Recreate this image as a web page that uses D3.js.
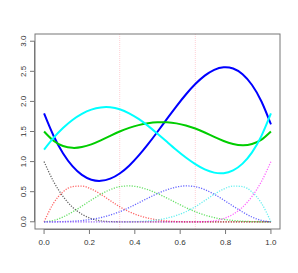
<!DOCTYPE html>
<html><head><meta charset="utf-8">
<script src="https://cdn.jsdelivr.net/npm/d3@7"></script>
<style>body{margin:0;background:#fff}svg{display:block}</style>
</head><body>
<script>
// x grid (k/24)
const xs = d3.range(25).map(k => k / 24);
// basis curves (dotted)
const basisBlack   = [1,0.670,0.422,0.244,0.125,0.053,0.016,0.002,0,0,0,0,0,0,0,0,0,0,0,0,0,0,0,0,0];
const basisRed     = [0,0.308,0.496,0.584,0.594,0.544,0.457,0.352,0.250,0.167,0.105,0.061,0.031,0.013,0.004,0.000,0,0,0,0,0,0,0,0,0];
const basisGreen   = [0,0.022,0.079,0.163,0.260,0.362,0.457,0.534,0.583,0.596,0.577,0.532,0.469,0.394,0.314,0.236,0.167,0.112,0.070,0.041,0.021,0.009,0.003,0.000,0];
const basisBlue    = [0,0.000,0.003,0.009,0.021,0.041,0.070,0.112,0.167,0.236,0.314,0.394,0.469,0.532,0.577,0.596,0.583,0.534,0.457,0.362,0.260,0.163,0.079,0.022,0];
const basisCyan    = [0,0,0,0,0,0,0,0,0,0.000,0.004,0.013,0.031,0.061,0.105,0.167,0.250,0.352,0.457,0.544,0.594,0.584,0.496,0.308,0];
const basisMagenta = [0,0,0,0,0,0,0,0,0,0,0,0,0,0,0,0,0,0.002,0.016,0.053,0.125,0.244,0.422,0.670,1];
// solid curves
const curveBlue  = [1.8,1.429,1.139,0.924,0.779,0.699,0.680,0.716,0.802,0.932,1.098,1.289,1.496,1.710,1.919,2.115,2.288,2.428,2.525,2.568,2.547,2.452,2.273,1.999,1.62];
const curveGreen = [1.5,1.346,1.260,1.228,1.241,1.286,1.352,1.427,1.500,1.560,1.606,1.637,1.653,1.652,1.635,1.601,1.550,1.483,1.410,1.343,1.293,1.271,1.291,1.364,1.5];
const curveCyan  = [1.2,1.394,1.558,1.692,1.794,1.864,1.900,1.902,1.870,1.803,1.709,1.593,1.463,1.328,1.193,1.067,0.957,0.870,0.817,0.808,0.855,0.966,1.154,1.428,1.8];
const knots = [1/3, 2/3];
const xTicks = [0, 0.2, 0.4, 0.6, 0.8, 1.0];
const yTicks = [0, 0.5, 1.0, 1.5, 2.0, 2.5, 3.0];

const W = 298, H = 273;
const L = 35, R = 280, T = 34, B = 229;
const svg = d3.select("body").append("svg").attr("width", W).attr("height", H);
const x = d3.scaleLinear().domain([-0.04, 1.04]).range([L, R]);
const y = d3.scaleLinear().domain([-0.12, 3.12]).range([B, T]);

// knot lines
svg.selectAll("line.knot").data(knots).enter().append("line")
  .attr("x1", d => x(d)).attr("x2", d => x(d)).attr("y1", T).attr("y2", B)
  .attr("stroke", "#ffd0d6").attr("stroke-width", 1).attr("stroke-dasharray", "1,1");

const dotted = [
  [basisBlack, "#000000"], [basisRed, "#ff0000"], [basisGreen, "#00cd00"],
  [basisBlue, "#0000ff"], [basisCyan, "#00e5e5"], [basisMagenta, "#ff00ff"]
];
const lineM = d3.line().curve(d3.curveMonotoneX);
dotted.forEach(([vals, col]) => {
  svg.append("path")
    .attr("d", lineM(vals.map((v, i) => [x(xs[i]), y(v)])))
    .attr("fill", "none").attr("stroke", col).attr("stroke-width", 1.3)
    .attr("stroke-dasharray", "1.2,1.4").attr("opacity", 0.6);
});

const lineN = d3.line().curve(d3.curveNatural);
[[curveBlue, "#0000ff"], [curveGreen, "#00cd00"], [curveCyan, "#00ffff"]].forEach(([vals, col]) => {
  svg.append("path")
    .attr("d", lineN(vals.map((v, i) => [x(xs[i]), y(v)])))
    .attr("fill", "none").attr("stroke", col).attr("stroke-width", 2);
});

// box
svg.append("rect").attr("x", L).attr("y", T).attr("width", R - L).attr("height", B - T)
  .attr("fill", "none").attr("stroke", "#777").attr("stroke-width", 1);

// axes (R style)
const ax = svg.append("g").attr("stroke", "#777").attr("stroke-width", 1);
ax.append("line").attr("x1", x(0)).attr("x2", x(1)).attr("y1", B + 0.5).attr("y2", B + 0.5);
ax.selectAll("line.xt").data(xTicks).enter().append("line")
  .attr("x1", d => x(d)).attr("x2", d => x(d)).attr("y1", B).attr("y2", B + 5);
ax.append("line").attr("x1", L - 0.5).attr("x2", L - 0.5).attr("y1", y(0)).attr("y2", y(3));
ax.selectAll("line.yt").data(yTicks).enter().append("line")
  .attr("x1", L - 5).attr("x2", L).attr("y1", d => y(d)).attr("y2", d => y(d));

svg.selectAll("text.xl").data(xTicks).enter().append("text")
  .attr("x", d => x(d)).attr("y", 245).attr("text-anchor", "middle")
  .attr("font-family", "Liberation Sans, Arial, sans-serif").attr("font-size", 8).attr("fill", "#333")
  .text(d => d.toFixed(1));
svg.selectAll("text.yl").data(yTicks).enter().append("text")
  .attr("transform", d => `translate(25.5,${y(d)}) rotate(-90)`).attr("text-anchor", "middle")
  .attr("font-family", "Liberation Sans, Arial, sans-serif").attr("font-size", 8).attr("fill", "#333")
  .text(d => d.toFixed(1));
</script>
</body></html>
